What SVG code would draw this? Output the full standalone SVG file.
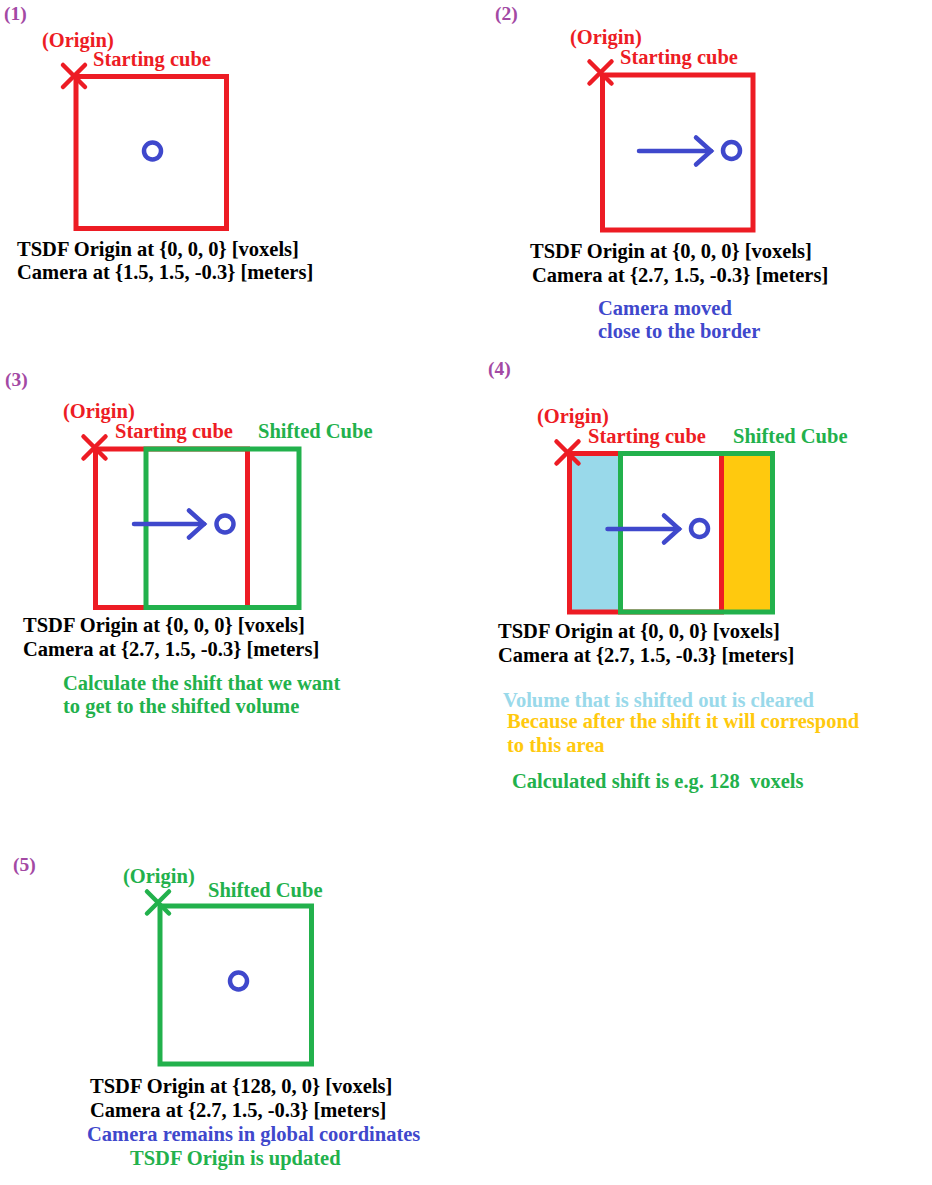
<svg xmlns="http://www.w3.org/2000/svg" width="932" height="1185" viewBox="0 0 932 1185">
<style>
text{font-family:"Liberation Serif","Times New Roman",serif;font-weight:bold;font-size:20.5px}
.num{fill:#a349a4;font-size:19.5px}
.k{fill:#000}
.r{fill:#ed1c24}
.g{fill:#22b14c}
.b{fill:#3f48cc}
.lb{fill:#99d9ea}
.y{fill:#ffc90e}
.box{fill:none;stroke-width:5}
.rs{stroke:#ed1c24}
.gs{stroke:#22b14c}
.cross{stroke-width:4.5;stroke-linecap:round;fill:none}
.cam{fill:none;stroke:#3f48cc;stroke-width:4.5}
.arrow{stroke:#3f48cc;stroke-width:4.5;stroke-linecap:round;fill:none}
</style>
<defs>
<marker id="chev" markerUnits="userSpaceOnUse" viewBox="0 0 20 30" markerWidth="20" markerHeight="30" refX="17" refY="15" orient="auto" overflow="visible">
<path d="M2,1.5 L17,15 L2,28.5" fill="none" stroke="#3f48cc" stroke-width="4.5" stroke-linecap="round"/>
</marker>
</defs>
<rect width="932" height="1185" fill="#fff"/>

<g id="panel1">
<text class="num" x="4" y="20">(1)</text>
<text class="r" x="42" y="47">(Origin)</text>
<text class="r" x="93" y="66">Starting cube</text>
<rect class="box rs" x="76" y="76.5" width="150.5" height="152"/>
<path class="cross rs" d="M63,65 L85,87 M85,65 L63,87"/>
<circle class="cam" cx="152.5" cy="151" r="8.5"/>
<text class="k" x="17" y="256">TSDF Origin at {0, 0, 0} [voxels]</text>
<text class="k" x="17" y="279">Camera at {1.5, 1.5, -0.3} [meters]</text>
</g>

<g id="panel2">
<text class="num" x="495" y="20">(2)</text>
<text class="r" x="570" y="44">(Origin)</text>
<text class="r" x="620" y="64">Starting cube</text>
<rect class="box rs" x="602.5" y="75" width="150.5" height="155"/>
<path class="cross rs" d="M589.5,61.5 L611.5,83.5 M611.5,61.5 L589.5,83.5"/>
<circle class="cam" cx="731.5" cy="150.5" r="8.5"/>
<text class="k" x="530" y="258">TSDF Origin at {0, 0, 0} [voxels]</text>
<text class="k" x="532" y="282">Camera at {2.7, 1.5, -0.3} [meters]</text>
<text class="b" x="598" y="315">Camera moved</text>
<text class="b" x="598" y="338">close to the border</text>
</g>

<g id="panel3">
<text class="num" x="5" y="386">(3)</text>
<text class="r" x="63" y="418">(Origin)</text>
<text class="r" x="115" y="438">Starting cube</text>
<text class="g" x="258" y="438">Shifted Cube</text>
<rect class="box rs" x="95.5" y="449" width="152" height="158.5"/>
<rect class="box gs" x="146" y="449" width="153" height="158.5"/>
<path class="cross rs" d="M83.5,436.5 L105.5,458.5 M105.5,436.5 L83.5,458.5"/>
<circle class="cam" cx="225" cy="524" r="8.5"/>
<text class="k" x="23" y="632">TSDF Origin at {0, 0, 0} [voxels]</text>
<text class="k" x="23" y="656">Camera at {2.7, 1.5, -0.3} [meters]</text>
<text class="g" x="63" y="690">Calculate the shift that we want</text>
<text class="g" x="63" y="713">to get to the shifted volume</text>
</g>

<g id="panel4">
<text class="num" x="488" y="375">(4)</text>
<text class="r" x="537" y="423">(Origin)</text>
<text class="r" x="588" y="443">Starting cube</text>
<text class="g" x="733" y="443">Shifted Cube</text>
<rect class="lb" x="571" y="455" width="48" height="156"/>
<rect class="y" x="722" y="455" width="49" height="156"/>
<rect class="box rs" x="569.5" y="453.5" width="152" height="158.5"/>
<rect class="box gs" x="620.5" y="453.5" width="152" height="158.5"/>
<path class="cross rs" d="M556.5,441.5 L578.5,463.5 M578.5,441.5 L556.5,463.5"/>
<circle class="cam" cx="699.5" cy="528.5" r="8.5"/>
<text class="k" x="498" y="638">TSDF Origin at {0, 0, 0} [voxels]</text>
<text class="k" x="498" y="662">Camera at {2.7, 1.5, -0.3} [meters]</text>
<text class="lb" x="503" y="707">Volume that is shifted out is cleared</text>
<text class="y" x="507" y="728">Because after the shift it will correspond</text>
<text class="y" x="507" y="752">to this area</text>
<text class="g" x="512" y="788">Calculated shift is e.g. 128&#160; voxels</text>
</g>

<g id="panel5">
<text class="num" x="13" y="871">(5)</text>
<text class="g" x="123" y="883">(Origin)</text>
<text class="g" x="208" y="897">Shifted Cube</text>
<rect class="box gs" x="160" y="906" width="151.5" height="158"/>
<path class="cross gs" d="M147,891.5 L169,913.5 M169,891.5 L147,913.5"/>
<circle class="cam" cx="238.5" cy="981" r="8.5"/>
<text class="k" x="90" y="1093">TSDF Origin at {128, 0, 0} [voxels]</text>
<text class="k" x="90" y="1117">Camera at {2.7, 1.5, -0.3} [meters]</text>
<text class="b" x="87" y="1141">Camera remains in global coordinates</text>
<text class="g" x="130" y="1165">TSDF Origin is updated</text>
</g>

<g id="connectors">
<line class="arrow" x1="639" y1="151" x2="711" y2="151" marker-end="url(#chev)"/>
<line class="arrow" x1="134" y1="524" x2="204" y2="524" marker-end="url(#chev)"/>
<line class="arrow" x1="607.5" y1="529" x2="679" y2="529" marker-end="url(#chev)"/>
</g>
</svg>
